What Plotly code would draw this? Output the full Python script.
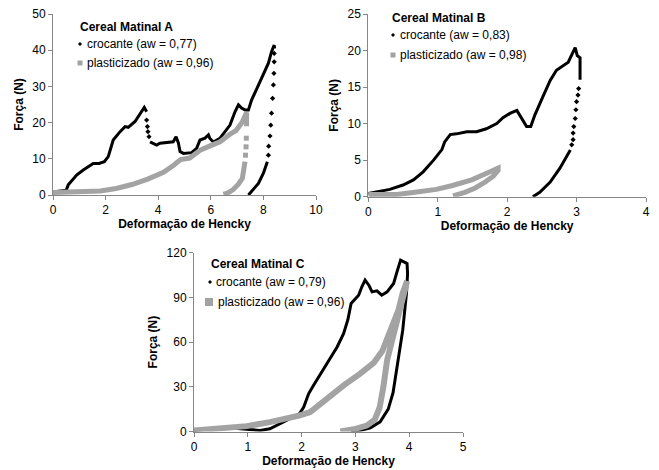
import plotly.graph_objects as go

# ---------------- DATA ----------------
# Cereal Matinal A
A_croc_x1 = [0, 0.3, 0.5, 0.58, 0.9, 1.15, 1.53, 1.75, 1.95, 2.1, 2.29, 2.55, 2.74, 2.86, 3.12, 3.47, 3.56]
A_croc_y1 = [0.8, 1.0, 1.3, 2.8, 5.5, 6.9, 8.7, 8.7, 9.2, 10.6, 15.2, 17.5, 18.9, 18.7, 20.3, 24.2, 23.0]
A_croc_xs1 = [3.56, 3.59, 3.61, 3.65]
A_croc_ys1 = [20.7, 18.9, 17.5, 16.1]
A_croc_x2 = [3.69, 3.94, 4.07, 4.39, 4.57, 4.68, 4.77, 4.83, 4.96, 5.27, 5.46, 5.59, 5.78, 5.91, 5.96, 6.1,
             6.35, 6.73, 6.92, 7.05, 7.17, 7.30, 7.43, 7.55, 7.81, 8.0, 8.19, 8.31, 8.41, 8.43]
A_croc_y2 = [14.7, 13.8, 14.3, 14.6, 14.7, 16.1, 14.3, 12.0, 11.5, 11.7, 12.9, 15.2, 15.7, 16.6, 15.7, 14.6,
             15.7, 19.3, 23.0, 24.9, 24.0, 23.5, 23.5, 26.2, 30.4, 33.1, 36.4, 39.6, 41.4, 40.5]
A_croc_xs2 = [8.41, 8.41, 8.40, 8.38, 8.35, 8.31, 8.28, 8.25, 8.20, 8.19]
A_croc_ys2 = [39.1, 36.8, 33.6, 30.4, 26.7, 22.6, 19.3, 16.3, 13.5, 11.0]
A_croc_x3 = [8.15, 8.0, 7.81, 7.55, 7.43]
A_croc_y3 = [9.2, 6.0, 3.2, 0.9, 0.0]

A_plast_x1 = [0, 1.0, 1.8, 2.4, 3.0, 3.6, 4.2, 4.6, 4.85, 5.2, 5.6, 5.95, 6.35, 6.73, 6.96, 7.2, 7.36, 7.36, 7.36]
A_plast_y1 = [0.7, 0.8, 1.1, 1.8, 2.9, 4.4, 6.3, 8.3, 9.8, 10.2, 12.4, 13.5, 14.7, 16.8, 17.8, 20.2, 22.8, 21.0, 19.0]
A_plast_xs = [7.35, 7.34, 7.32]
A_plast_ys = [15.7, 13.3, 11.0]
A_plast_x2 = [7.30, 7.26, 7.2, 7.05, 6.85, 6.65, 6.48]
A_plast_y2 = [9.2, 6.5, 4.6, 3.0, 1.5, 0.6, 0.2]

# Cereal Matinal B
B_croc_x1 = [0, 0.12, 0.31, 0.50, 0.65, 0.79, 0.94, 1.06, 1.1, 1.18, 1.27, 1.42, 1.56, 1.70, 1.85, 1.94,
             2.04, 2.14, 2.21, 2.28, 2.34, 2.40, 2.52, 2.62, 2.71, 2.81, 2.88, 2.98, 3.01, 3.05, 3.05, 3.05]
B_croc_y1 = [0.45, 0.7, 1.0, 1.6, 2.3, 3.4, 5.0, 6.45, 7.5, 8.5, 8.6, 8.9, 8.9, 9.3, 10.0, 10.8,
             11.4, 11.8, 10.7, 9.6, 9.6, 11.2, 13.8, 15.9, 17.3, 18.0, 18.4, 20.4, 19.3, 19.0, 18.6, 16.0]
B_croc_xs = [3.03, 3.02, 3.0, 2.99, 2.98, 2.96, 2.95, 2.95, 2.93]
B_croc_ys = [14.8, 13.9, 13.0, 11.9, 10.7, 9.6, 8.7, 7.8, 7.1]
B_croc_x2 = [2.91, 2.88, 2.76, 2.62, 2.47, 2.37]
B_croc_y2 = [6.4, 5.9, 3.9, 2.0, 0.6, 0.0]

B_plast_x = [0, 0.41, 0.67, 0.98, 1.2, 1.49, 1.73, 1.87, 1.87, 1.80, 1.68, 1.54, 1.39, 1.22]
B_plast_y = [0.3, 0.3, 0.6, 1.0, 1.5, 2.3, 3.3, 3.9, 3.6, 2.8, 2.0, 1.2, 0.6, 0.1]

# Cereal Matinal C
C_croc_x = [0, 0.36, 0.61, 0.86, 1.23, 1.41, 1.60, 1.79, 1.96, 2.04, 2.13, 2.22, 2.35, 2.5, 2.66, 2.78,
            2.86, 2.92, 2.97, 3.06, 3.12, 3.18, 3.25, 3.31, 3.40, 3.49, 3.59, 3.71, 3.78, 3.84, 3.9,
            3.96, 3.97, 3.95, 3.88, 3.79, 3.70, 3.61, 3.46, 3.28, 3.1, 2.92]
C_croc_y = [0.7, 1.8, 2.9, 1.8, 0.7, 1.8, 5.2, 8.5, 11.9, 16.4, 25.3, 30.9, 38.8, 47.5, 56.7, 65.7,
            75, 86, 88.1, 91.5, 97.1, 101.6, 98.2, 93.7, 94.4, 91.5, 93.7, 99.3, 108, 115, 113.9,
            112.8, 106, 93, 68, 46, 26, 15, 6.5, 2.5, 0.9, 0.0]

C_plast_x = [0, 0.48, 0.98, 1.41, 1.72, 1.97, 2.16, 2.35, 2.59, 2.8, 3.09, 3.34, 3.50, 3.65, 3.80, 3.88,
             3.96, 3.92, 3.85, 3.78, 3.68, 3.59, 3.52, 3.45, 3.36, 3.21, 2.97, 2.72]
C_plast_y = [0.7, 1.8, 3.6, 6.3, 8.5, 10.8, 13.0, 18.6, 25.3, 31.5, 38.8, 46, 54, 67, 81.4, 93,
             101, 95, 85, 75, 63.5, 48, 30, 16, 8, 4, 1.5, 0]

# Legends / titles
titles = ["Cereal Matinal A", "Cereal Matinal B", "Cereal Matinal C"]
labels_croc = ["crocante (aw = 0,77)", "crocante (aw = 0,83)", "crocante (aw = 0,79)"]
labels_plast = ["plasticizado (aw = 0,96)", "plasticizado (aw = 0,98)", "plasticizado (aw = 0,96)"]

x_ticks = [[0, 2, 4, 6, 8, 10], [0, 1, 2, 3, 4], [0, 1, 2, 3, 4, 5]]
y_ticks = [[0, 10, 20, 30, 40, 50], [0, 5, 10, 15, 20, 25], [0, 30, 60, 90, 120]]

# ---------------- FIGURE ----------------
W, H = 659, 470
BLACK = "#000000"
GRAY = "#a3a3a3"
AXC = "#868686"
FONT = "Liberation Sans, Arial, sans-serif"

fig = go.Figure()

def dense(x, y, ax, color, width):
    fig.add_trace(go.Scatter(x=x, y=y, xaxis=ax[0], yaxis=ax[1], mode="lines",
                             line=dict(color=color, width=width), showlegend=False,
                             hoverinfo="x+y"))

def sparse(x, y, ax, color, symbol, size):
    fig.add_trace(go.Scatter(x=x, y=y, xaxis=ax[0], yaxis=ax[1], mode="markers",
                             marker=dict(color=color, symbol=symbol, size=size, line=dict(width=0)),
                             showlegend=False, hoverinfo="x+y"))

axA = ("x", "y"); axB = ("x2", "y2"); axC = ("x3", "y3")

# A
dense(A_croc_x1, A_croc_y1, axA, BLACK, 3)
sparse(A_croc_xs1, A_croc_ys1, axA, BLACK, "diamond", 4)
dense(A_croc_x2, A_croc_y2, axA, BLACK, 3)
sparse(A_croc_xs2, A_croc_ys2, axA, BLACK, "diamond", 4)
dense(A_croc_x3, A_croc_y3, axA, BLACK, 3)
dense(A_plast_x1, A_plast_y1, axA, GRAY, 5)
sparse(A_plast_xs, A_plast_ys, axA, GRAY, "square", 5)
dense(A_plast_x2, A_plast_y2, axA, GRAY, 5)
# B
dense(B_croc_x1, B_croc_y1, axB, BLACK, 3)
sparse(B_croc_xs, B_croc_ys, axB, BLACK, "diamond", 4)
dense(B_croc_x2, B_croc_y2, axB, BLACK, 3)
dense(B_plast_x, B_plast_y, axB, GRAY, 5)
# C
dense(C_croc_x, C_croc_y, axC, BLACK, 3)
dense(C_plast_x, C_plast_y, axC, GRAY, 6)

def px_x(p):
    return p / W

def px_y(p):
    return 1 - p / H

domains = [
    ((53, 316), (14, 195)),
    ((368.3, 646), (14, 196.7)),
    ((194, 463), (252.7, 431.5)),
]
ranges_x = [[0, 10], [0, 4], [0, 5]]
ranges_y = [[0, 50], [0, 25], [0, 120]]

layout = dict(
    width=W, height=H, margin=dict(l=0, r=0, t=0, b=0, autoexpand=False),
    paper_bgcolor="white", plot_bgcolor="white",
    font=dict(family=FONT, size=12, color="#000000"),
    showlegend=False,
)
for i, ((x0, x1), (y0, y1)) in enumerate(domains):
    sx = "xaxis" if i == 0 else f"xaxis{i+1}"
    sy = "yaxis" if i == 0 else f"yaxis{i+1}"
    anchor_y = "y" if i == 0 else f"y{i+1}"
    anchor_x = "x" if i == 0 else f"x{i+1}"
    common = dict(showgrid=False, zeroline=False, showline=True, linecolor=AXC, linewidth=1,
                  ticks="outside", ticklen=4, tickcolor=AXC, tickwidth=1, automargin=False,
                  tickfont=dict(family=FONT, size=12, color="#000000"), fixedrange=True)
    layout[sx] = dict(domain=[px_x(x0), px_x(x1)], range=ranges_x[i], anchor=anchor_y,
                      tickvals=x_ticks[i], ticktext=[str(v) for v in x_ticks[i]],
                      title=dict(text="<b>Deformação de Hencky</b>", standoff=2,
                                 font=dict(family=FONT, size=12, color="#000000")),
                      **common)
    layout[sy] = dict(domain=[px_y(y1), px_y(y0)], range=ranges_y[i], anchor=anchor_x,
                      tickvals=y_ticks[i], ticktext=[str(v) for v in y_ticks[i]],
                      title=dict(text="<b>Força (N)</b>", standoff=6,
                                 font=dict(family=FONT, size=12, color="#000000")),
                      **common)
fig.update_layout(**layout)

# legend-like entries: text as annotations, symbols as small shapes
leg_pos = [
    dict(t=(78, 27), d=(80, 44), tx1=85, s=(80, 63), tx2=85, ss=2.5),
    dict(t=(390, 17.5), d=(393, 35), tx1=398, s=(393, 55), tx2=398, ss=2.5),
    dict(t=(209, 264), d=(210, 282), tx1=214, s=(209, 302), tx2=216, ss=4),
]
for i, p in enumerate(leg_pos):
    fig.add_annotation(xref="paper", yref="paper", x=px_x(p["t"][0]), y=px_y(p["t"][1]),
                       xanchor="left", yanchor="middle", showarrow=False,
                       text=f"<b>{titles[i]}</b>", font=dict(family=FONT, size=12, color="#000"))
    dx, dy = p["d"]
    fig.add_shape(type="path", xref="paper", yref="paper",
                  path=f"M {px_x(dx-2)} {px_y(dy)} L {px_x(dx)} {px_y(dy-2)} L {px_x(dx+2)} {px_y(dy)} L {px_x(dx)} {px_y(dy+2)} Z",
                  fillcolor=BLACK, line=dict(width=0))
    fig.add_annotation(xref="paper", yref="paper", x=px_x(p["tx1"]), y=px_y(dy),
                       xanchor="left", yanchor="middle", showarrow=False,
                       text=labels_croc[i], font=dict(family=FONT, size=12, color="#000"))
    sx_, sy_ = p["s"]; h = p["ss"]
    fig.add_shape(type="rect", xref="paper", yref="paper",
                  x0=px_x(sx_-h), x1=px_x(sx_+h), y0=px_y(sy_+h), y1=px_y(sy_-h),
                  fillcolor=GRAY, line=dict(width=0))
    fig.add_annotation(xref="paper", yref="paper", x=px_x(p["tx2"]), y=px_y(sy_),
                       xanchor="left", yanchor="middle", showarrow=False,
                       text=labels_plast[i], font=dict(family=FONT, size=12, color="#000"))

fig.write_html("out.html", config={"displayModeBar": False},
               post_script="document.body.style.margin='0';document.body.style.overflow='hidden';")
